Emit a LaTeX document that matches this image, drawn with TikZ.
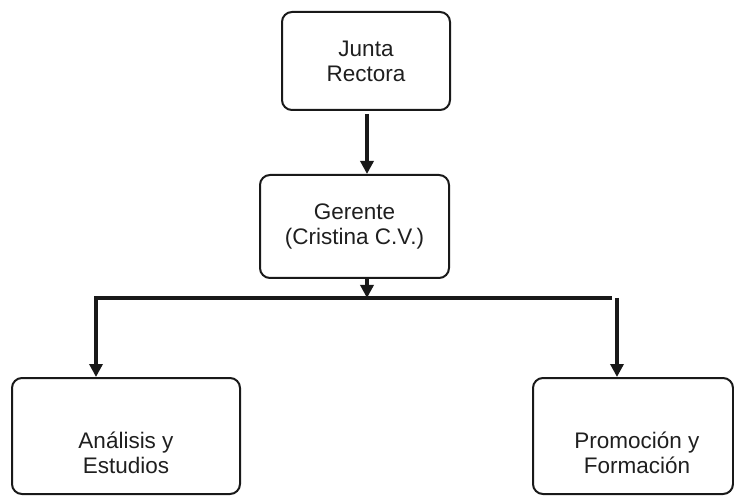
\documentclass[tikz,border=0pt]{standalone}
\usepackage{fontspec}
\setmainfont{Liberation Sans}
\usetikzlibrary{arrows.meta}
\begin{document}
\begin{tikzpicture}[x=1pt,y=-1pt,
  box/.style={draw=black!90, line width=2pt, rounded corners=10pt, inner sep=0pt},
  txt/.style={align=center, font=\fontsize{22.5}{25}\selectfont, text=black!88, inner sep=0pt},
  conn/.style={draw=black!90, line width=3.5pt, -{Triangle[width=13pt,length=13pt]}}]
\useasboundingbox (0,0) rectangle (734,497);
\node[box, txt, minimum width=168pt, minimum height=98pt] (junta) at (366,61) {Junta\\Rectora};
\node[box, txt, minimum width=189pt, minimum height=103pt] (ger) at (354.5,226.5) {Gerente\\(Cristina C.V.)};
\node[box, minimum width=228pt, minimum height=116pt] (ana) at (126,436) {};
\node[box, minimum width=200pt, minimum height=116pt] (pro) at (633,436) {};
\node[txt] (anat) at (126,453) {Análisis y\\Estudios};
\node[txt] (prot) at (637,453) {Promoción y\\Formación};
\coordinate (bar) at (367,298);
\coordinate (barL) at (96,298);
\coordinate (barR) at (612,298);
\coordinate (rtop) at (617,298);
\draw[conn, shorten <=3pt] (junta.south -| bar) -- (bar |- ger.north);
\draw[conn] (ger.south -| bar) -- (bar);
\draw[conn] (barR) -- (barL) -- (ana.north -| barL);
\draw[conn] (rtop) -- (rtop |- pro.north);
\end{tikzpicture}
\end{document}
